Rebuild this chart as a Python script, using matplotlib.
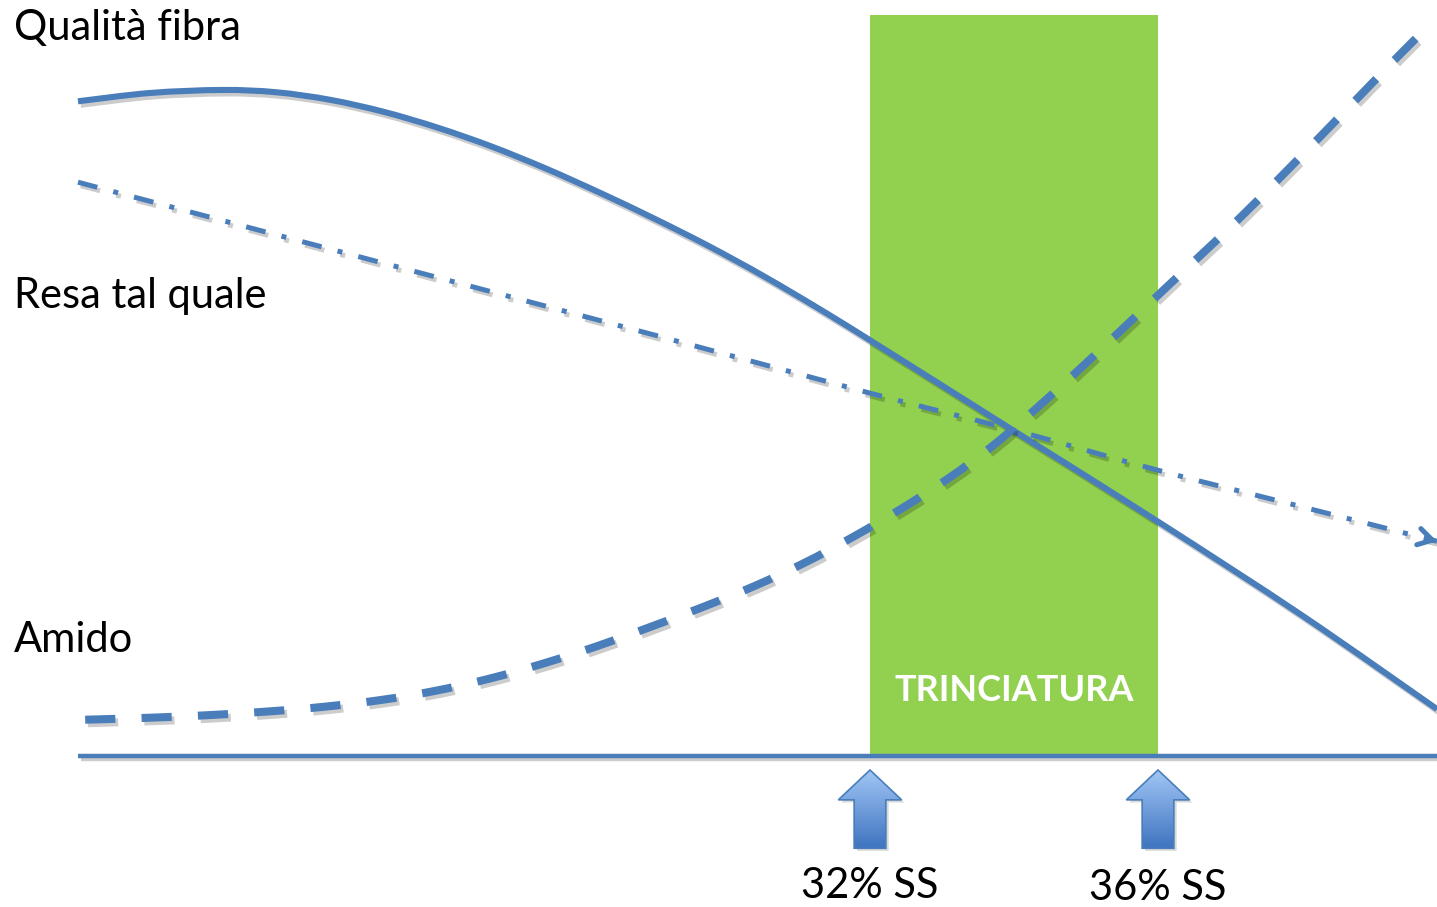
import numpy as np
import matplotlib
matplotlib.use("Agg")
import matplotlib.pyplot as plt
from matplotlib.patches import Polygon, Rectangle, FancyArrowPatch, PathPatch
from matplotlib.path import Path
import matplotlib.patheffects as pe

# Dry matter content (% SS) against relative level (arbitrary units)
fibra_x = [21, 22, 23, 23.75, 24.5, 25.25, 26, 26.75, 27.5, 28.25, 29, 29.75, 30.5,
           31.25, 32, 34, 36, 38, 39.875]
fibra_y = [86.6, 87.7, 88.1, 87.8, 86.8, 85.2, 83.1, 80.6, 77.7, 74.5, 71.1, 67.5, 63.6,
           59.4, 55.0, 43.0, 31.0, 18.6, 6.2]

resa_x = [21, 25, 29, 32, 34, 36, 37.9, 39.875]
resa_y = [75.9, 65.8, 55.7, 48.0, 43.1, 37.8, 33.2, 28.4]

amido_x = [21.1, 22.1, 22.9, 23.65, 24.4, 25.2, 25.95, 26.7, 27.45, 28.2, 28.9, 29.65,
           30.4, 31.1, 31.75, 32.45, 33.1, 33.7, 34.3, 35.05, 36.05, 37.15, 38.25, 39.35, 39.7]
amido_y = [4.8, 5.1, 5.45, 5.9, 6.5, 7.4, 8.6, 10.2, 12.2, 14.5, 16.9, 19.6,
           22.5, 25.6, 28.9, 32.8, 36.8, 41.0, 45.9, 52.4, 61.4, 71.3, 81.9, 92.7, 96.0]

series_labels = ["Qualità fibra", "Resa tal quale", "Amido"]
window = [32, 36]          # harvest window, % SS
window_label = "TRINCIATURA"
marker_labels = ["32% SS", "36% SS"]

BLUE = "#4a7ebb"
GREEN = "#92d050"
FONT = "Lato"

fig = plt.figure(figsize=(14.37, 9.07), dpi=100)
ax = fig.add_axes([0, 0, 1, 1])
ax.axis("off")


def shadow(dx=2, dy=-2.5, alpha=0.2):
    return [pe.SimpleLineShadow(offset=(dx, dy), shadow_color="black", alpha=alpha),
            pe.Normal()]


def smooth_path(xs, ys):
    """Smoothed line through the points (Catmull-Rom as cubic Bezier segments)."""
    p = np.column_stack([xs, ys]).astype(float)
    ext = np.vstack([p[0], p, p[-1]])
    verts = [p[0]]
    codes = [Path.MOVETO]
    for i in range(1, len(ext) - 2):
        c1 = ext[i] + (ext[i + 1] - ext[i - 1]) / 6.0
        c2 = ext[i + 1] - (ext[i + 2] - ext[i]) / 6.0
        verts += [c1, c2, ext[i + 1]]
        codes += [Path.CURVE4] * 3
    return Path(verts, codes)


def curve(xs, ys, **kw):
    patch = PathPatch(smooth_path(xs, ys), facecolor="none", edgecolor=BLUE,
                      capstyle="butt", joinstyle="round", path_effects=shadow(), zorder=4, **kw)
    ax.add_patch(patch)
    return patch


# harvest window band
band = Rectangle((window[0], 0), window[1] - window[0], 98.0, facecolor=GREEN,
                 edgecolor="none", zorder=1)
ax.add_patch(band)
ax.text(sum(window) / 2, 8.7, window_label, color="white", fontsize=26, fontweight="bold",
        family=FONT, ha="center", va="center", zorder=5)

# baseline
ax.plot([21, 39.875], [0, 0], color=BLUE, lw=3.2, solid_capstyle="butt", zorder=3,
        path_effects=shadow())

# curves
curve(fibra_x, fibra_y, lw=4.4)
curve(resa_x, resa_y, lw=3.6, linestyle=(0, (4.0, 3.3, 1.0, 3.3)))
curve(amido_x, amido_y, lw=5.8, linestyle=(0, (3.75, 3.25)))

# open arrow head at the end of the yield curve, along its last segment
dx = resa_x[-1] - resa_x[-2]
dy = resa_y[-1] - resa_y[-2]
tail = (resa_x[-1] - 0.08, resa_y[-1] - 0.08 * dy / dx)
head = FancyArrowPatch(posA=tail, posB=(resa_x[-1], resa_y[-1]),
                       arrowstyle="->,head_length=1.0,head_width=0.6", mutation_scale=10,
                       color=BLUE, lw=3.6, shrinkA=0, shrinkB=0, zorder=4)
ax.add_patch(head)

# series labels
label_y = [96.3, 60.8, 15.3]
for txt, y in zip(series_labels, label_y):
    ax.text(20.11, y, txt, fontsize=30, family=FONT, ha="left", va="center", zorder=5)

# block arrows marking the window limits
tip, neck, base = -1.85, -5.8, -12.2
head_hw, shaft_hw = 0.44, 0.22
grad = np.linspace(0, 1, 256).reshape(-1, 1)
cmap = matplotlib.colors.LinearSegmentedColormap.from_list("arr", ["#3f74c0", "#a3c7f6"])
label_pos = [-17.2, -17.5]
for xc, txt, ly in zip(window, marker_labels, label_pos):
    verts = [(xc, tip), (xc + head_hw, neck), (xc + shaft_hw, neck), (xc + shaft_hw, base),
             (xc - shaft_hw, base), (xc - shaft_hw, neck), (xc - head_hw, neck)]
    shadow_poly = Polygon([(vx + 0.04, vy - 0.35) for vx, vy in verts], closed=True,
                          facecolor="black", alpha=0.15, edgecolor="none", zorder=2)
    ax.add_patch(shadow_poly)
    poly = Polygon(verts, closed=True, facecolor="none", edgecolor=BLUE, lw=1.2, zorder=4)
    ax.add_patch(poly)
    im = ax.imshow(grad, cmap=cmap, extent=(xc - head_hw, xc + head_hw, base, tip),
                   origin="lower", aspect="auto", zorder=3)
    im.set_clip_path(poly)
    ax.text(xc, ly, txt, fontsize=30, family=FONT, ha="center", va="center", zorder=5)

ax.set_xlim(19.917, 39.875)
ax.set_ylim(-19.97, 100)

fig.savefig("out.png", dpi=100)
